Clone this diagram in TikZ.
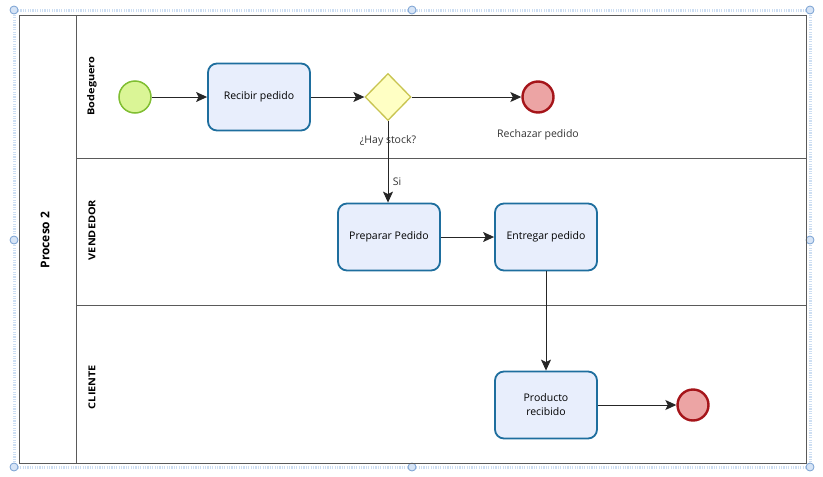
\documentclass[tikz,border=0pt]{standalone}
\usepackage{fontspec}
\setmainfont{Open Sans}
\usetikzlibrary{arrows.meta,shapes.geometric}
\definecolor{taskfill}{RGB}{232,238,252}
\definecolor{taskline}{RGB}{30,110,158}
\definecolor{startfill}{RGB}{218,245,150}
\definecolor{startline}{RGB}{128,190,50}
\definecolor{endfill}{RGB}{236,164,164}
\definecolor{endline}{RGB}{165,20,25}
\definecolor{gwfill}{RGB}{255,255,196}
\definecolor{gwline}{RGB}{200,196,80}
\definecolor{poolline}{RGB}{90,90,90}
\definecolor{selline}{RGB}{205,222,242}
\definecolor{selhandle}{RGB}{120,160,210}
\definecolor{selfill}{RGB}{214,228,246}
\tikzset{
  task/.style={draw=taskline, line width=1.8pt, fill=taskfill, rounded corners=9pt,
    minimum width=102pt, minimum height=67pt, align=center, font=\fontsize{10.5}{14}\selectfont, inner sep=2pt},
  startev/.style={circle, draw=startline, line width=1.5pt, fill=startfill, minimum size=32pt, inner sep=0pt},
  endev/.style={circle, draw=endline, line width=2.4pt, fill=endfill, minimum size=31pt, inner sep=0pt},
  gateway/.style={diamond, draw=gwline, line width=1.3pt, fill=gwfill, minimum width=46pt, minimum height=47pt, inner sep=0pt},
  flow/.style={draw=black!85, line width=1pt, -{Stealth[length=11pt,width=10pt,inset=2.5pt]}},
  lbl/.style={font=\fontsize{10.5}{13}\selectfont, text=black!80},
  lanelbl/.style={font=\bfseries\fontsize{9.5}{11}\selectfont, rotate=90, xscale=1.15},
  pool/.style={draw=poolline, line width=1pt},
  handle/.style={circle, draw=selhandle, fill=selfill, line width=0.8pt, minimum size=8pt, inner sep=0pt}
}
\begin{document}
\begin{tikzpicture}[x=1pt,y=-1pt]
\useasboundingbox (0,0) rectangle (823,477);
% selection frame with handles
\draw[selline, line width=3pt, dash pattern=on 1.2pt off 1.2pt] (14,10) rectangle (810,467);
\foreach \hx/\hy [count=\i] in {14/10,412/10,810/10,14/240,810/240,14/467,412/467,810/467}
  \node[handle] (h\i) at (\hx,\hy) {};
% pool and lanes
\draw[pool] (19,15) rectangle (806,463);
\draw[pool] (76,15) -- (76,463);
\draw[pool] (76,158) -- (806,158);
\draw[pool] (76,305) -- (806,305);
\node[font=\bfseries\fontsize{12}{14}\selectfont, rotate=90] (pname) at (45,240) {Proceso 2};
\node[lanelbl] (lane1) at (92,86) {Bodeguero};
\node[lanelbl] (lane2) at (92,230) {VENDEDOR};
\node[lanelbl] (lane3) at (92,387) {CLIENTE};
% flow objects
\node[startev] (start) at (135,97) {};
\node[task] (recibir) at (259,97) {Recibir pedido};
\node[gateway] (gw) at (388,97) {};
\node[endev] (rechazo) at (538,97) {};
\node[lbl] (gwlbl) at (388,141) {¿Hay stock?};
\node[lbl] (rechlbl) at (538,135) {Rechazar pedido};
\node[task] (preparar) at (389,237) {Preparar Pedido};
\node[task] (entregar) at (546,237) {Entregar pedido};
\node[task] (producto) at (546,405) {Producto\\recibido};
\node[endev] (fin) at (693,405) {};
% sequence flows
\draw[flow] (start) -- (recibir);
\draw[flow] (recibir) -- (gw);
\draw[flow] (gw) -- (rechazo);
\draw[flow] (gw.south) -- node[lbl, right, pos=0.74, xshift=1pt] (si) {Si} (gw.south |- preparar.north);
\draw[flow] (preparar) -- (entregar);
\draw[flow] (entregar) -- (producto);
\draw[flow] (producto) -- (fin);
\end{tikzpicture}
\end{document}
